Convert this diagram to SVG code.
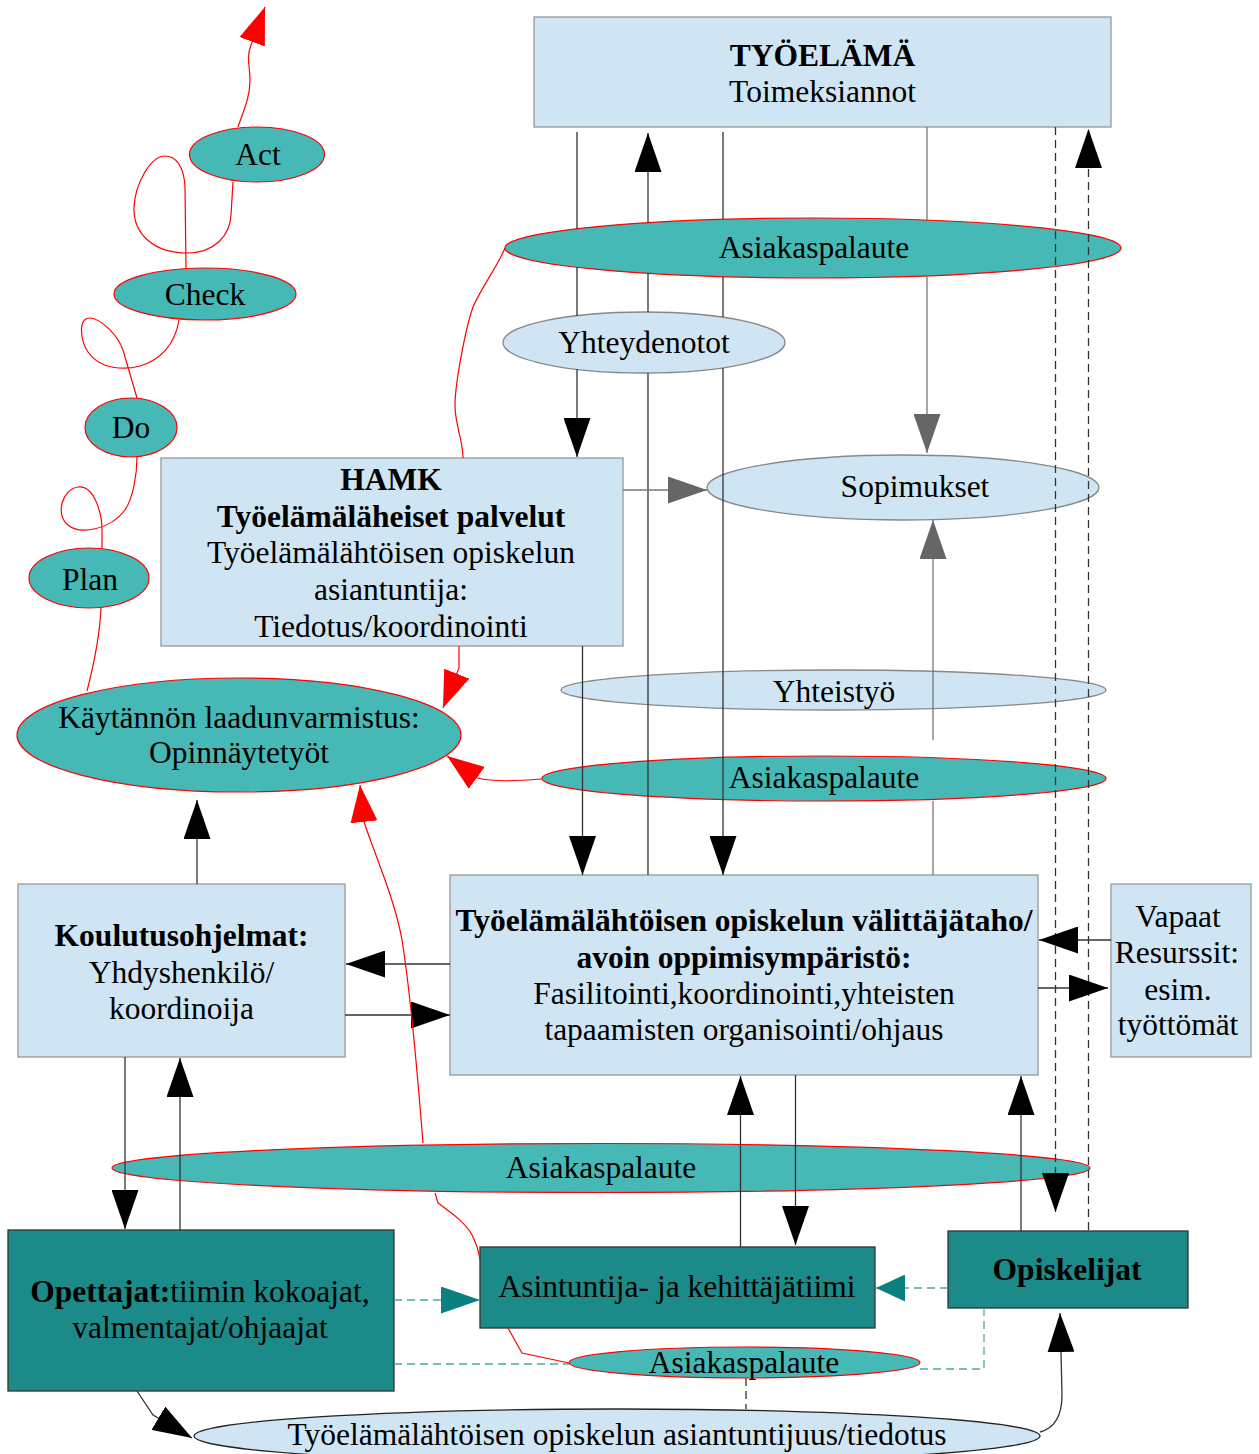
<svg xmlns="http://www.w3.org/2000/svg" width="1259" height="1454" viewBox="0 0 1259 1454">
  <style>
    text { font-family: "Liberation Serif", "Times New Roman", serif; font-size: 31.5px; fill: #000; text-anchor: middle; }
    .b { font-weight: bold; }
    .box { fill: #cfe5f3; stroke: #999; stroke-width: 1.3; }
    .dbox { fill: #1b8a88; stroke: #333; stroke-width: 1.3; }
    .lel { fill: #cfe5f3; stroke: #888; stroke-width: 1.3; }
    .tel { fill: #46b8b6; stroke: #f00; stroke-width: 1.2; }
    .ln { fill: none; stroke: #333; stroke-width: 1.3; }
    .lg { fill: none; stroke: #777; stroke-width: 1.3; }
    .ds { fill: none; stroke: #333; stroke-width: 1.3; stroke-dasharray: 8 5; }
    .dt { fill: none; stroke: #4aa8a6; stroke-width: 1.3; stroke-dasharray: 8 5; }
    .rd { fill: none; stroke: #f00; stroke-width: 1.2; }
  </style>
  <defs>
    <marker id="ab" markerUnits="userSpaceOnUse" markerWidth="40" markerHeight="27" viewBox="0 0 40 27" refX="39" refY="13.5" orient="auto">
      <path d="M0,0 L39,13.5 L0,27 z" fill="#000"/>
    </marker>
    <marker id="ag" markerUnits="userSpaceOnUse" markerWidth="40" markerHeight="27" viewBox="0 0 40 27" refX="39" refY="13.5" orient="auto">
      <path d="M0,0 L39,13.5 L0,27 z" fill="#666"/>
    </marker>
    <marker id="ar" markerUnits="userSpaceOnUse" markerWidth="38" markerHeight="27" viewBox="0 0 38 27" refX="37" refY="13.5" orient="auto">
      <path d="M0,0 L37,13.5 L0,27 z" fill="#f00"/>
    </marker>
    <marker id="at" markerUnits="userSpaceOnUse" markerWidth="40" markerHeight="27" viewBox="0 0 40 27" refX="39" refY="13.5" orient="auto">
      <path d="M0,0 L39,13.5 L0,27 z" fill="#0b807e"/>
    </marker>
    <marker id="at2" markerUnits="userSpaceOnUse" markerWidth="30" markerHeight="27" viewBox="0 0 30 27" refX="29" refY="13.5" orient="auto">
      <path d="M0,0 L29,13.5 L0,27 z" fill="#0b807e"/>
    </marker>
  </defs>

  <rect width="1259" height="1454" fill="#fff"/>

  <!-- nodes -->
  <g id="tyoelama">
    <rect class="box" x="534" y="17" width="577" height="110"/>
    <text class="b" x="822.5" y="66">TYÖELÄMÄ</text>
    <text x="822.5" y="102">Toimeksiannot</text>
  </g>
  <g id="asiakaspalaute-top">
    <ellipse class="tel" cx="813" cy="248" rx="308" ry="30"/>
    <text x="814" y="258">Asiakaspalaute</text>
  </g>
  <g id="yhteydenotot">
    <ellipse class="lel" cx="644" cy="342.5" rx="141" ry="30.5"/>
    <text x="644" y="353">Yhteydenotot</text>
  </g>
  <g id="hamk">
    <rect class="box" x="161" y="458" width="462" height="188"/>
    <text class="b" x="391" y="490">HAMK</text>
    <text class="b" x="391" y="527">Työelämäläheiset palvelut</text>
    <text x="391" y="563">Työelämälähtöisen opiskelun</text>
    <text x="391" y="600">asiantuntija:</text>
    <text x="391" y="637">Tiedotus/koordinointi</text>
  </g>
  <g id="sopimukset">
    <ellipse class="lel" cx="903" cy="487.5" rx="196" ry="32.5"/>
    <text x="915" y="497">Sopimukset</text>
  </g>
  <g id="yhteistyo">
    <ellipse class="lel" cx="833.5" cy="690" rx="272.5" ry="20"/>
    <text x="834" y="702">Yhteistyö</text>
  </g>
  <g id="asiakaspalaute-mid">
    <ellipse class="tel" cx="824" cy="778.5" rx="282" ry="22.5"/>
    <text x="824" y="788">Asiakaspalaute</text>
  </g>
  <g id="laadunvarmistus">
    <ellipse class="tel" cx="239" cy="735" rx="222" ry="57"/>
    <text x="239" y="728">Käytännön laadunvarmistus:</text>
    <text x="239" y="763">Opinnäytetyöt</text>
  </g>
  <g id="act">
    <ellipse class="tel" cx="257" cy="154.5" rx="67.5" ry="27.5"/>
    <text x="258" y="165">Act</text>
  </g>
  <g id="check">
    <ellipse class="tel" cx="205" cy="294" rx="91" ry="26"/>
    <text x="205" y="305">Check</text>
  </g>
  <g id="do">
    <ellipse class="tel" cx="131" cy="427.5" rx="46" ry="29.5"/>
    <text x="131" y="438">Do</text>
  </g>
  <g id="plan">
    <ellipse class="tel" cx="89" cy="578" rx="60" ry="30"/>
    <text x="90" y="590">Plan</text>
  </g>
  <g id="koulutusohjelmat">
    <rect class="box" x="18" y="884" width="327" height="173"/>
    <text class="b" x="181.5" y="946">Koulutusohjelmat:</text>
    <text x="181.5" y="983">Yhdyshenkilö/</text>
    <text x="181.5" y="1019">koordinoija</text>
  </g>
  <g id="valittajataho">
    <rect class="box" x="450" y="875" width="588" height="200"/>
    <text class="b" x="744" y="931">Työelämälähtöisen opiskelun välittäjätaho/</text>
    <text class="b" x="744" y="968">avoin oppimisympäristö:</text>
    <text x="744" y="1004">Fasilitointi,koordinointi,yhteisten</text>
    <text x="744" y="1040">tapaamisten organisointi/ohjaus</text>
  </g>
  <g id="vapaat-resurssit">
    <rect class="box" x="1111" y="884" width="140" height="173"/>
    <text x="1178" y="927">Vapaat</text>
    <text x="1177" y="963">Resurssit:</text>
    <text x="1178" y="1000">esim.</text>
    <text x="1178" y="1035">työttömät</text>
  </g>
  <g id="asiakaspalaute-bottom">
    <ellipse class="tel" cx="601" cy="1168" rx="489" ry="24.5"/>
    <text x="601" y="1178">Asiakaspalaute</text>
  </g>
  <g id="opettajat">
    <rect class="dbox" x="8" y="1230" width="386" height="161"/>
    <text x="200" y="1302"><tspan class="b">Opettajat:</tspan>tiimin kokoajat,</text>
    <text x="200" y="1338">valmentajat/ohjaajat</text>
  </g>
  <g id="asintuntijatiimi">
    <rect class="dbox" x="480" y="1247" width="395" height="81"/>
    <text x="677" y="1297">Asintuntija- ja kehittäjätiimi</text>
  </g>
  <g id="opiskelijat">
    <rect class="dbox" x="948" y="1231" width="240" height="77"/>
    <text class="b" x="1067" y="1280">Opiskelijat</text>
  </g>
  <g id="asiakaspalaute-small">
    <ellipse class="tel" cx="744.5" cy="1362.5" rx="175.5" ry="15.5"/>
    <text x="744" y="1373">Asiakaspalaute</text>
  </g>
  <g id="asiantuntijuus">
    <ellipse fill="#cfe5f3" stroke="#222" stroke-width="1.3" cx="617" cy="1436" rx="423" ry="27"/>
    <text x="617" y="1445">Työelämälähtöisen opiskelun asiantuntijuus/tiedotus</text>
  </g>

  <!-- connectors -->
  <g id="connectors">
    <!-- between TYÖELÄMÄ and HAMK / välittäjätaho -->
    <path class="ln" d="M577,132 L577,229 M577,267 L577,316"/>
    <path class="ln" d="M577,369 L577,457" marker-end="url(#ab)"/>
    <path class="ln" d="M648,875 L648,373 M648,312 L648,273"/>
    <path class="ln" d="M648,223 L648,133" marker-end="url(#ab)"/>
    <path class="ln" d="M723,132 L723,219 M723,277 L723,317"/>
    <path class="ln" d="M723,368 L723,875" marker-end="url(#ab)"/>
    <path class="lg" d="M927,127 L927,220"/>
    <path class="lg" d="M927,276 L927,453" marker-end="url(#ag)"/>
    <path class="ds" d="M1055.5,127 L1055.5,1212" marker-end="url(#ab)"/>
    <path class="ds" d="M1088.5,1230 L1088.5,129" marker-end="url(#ab)"/>

    <!-- HAMK and Sopimukset -->
    <path class="lg" d="M623,490 L707,490" marker-end="url(#ag)"/>
    <path class="lg" d="M933,740 L933,520" marker-end="url(#ag)"/>
    <path class="lg" d="M933,801 L933,875"/>
    <path class="ln" d="M582.5,646 L582.5,875" marker-end="url(#ab)"/>

    <!-- Koulutusohjelmat -->
    <path class="ln" d="M197,884 L197,800" marker-end="url(#ab)"/>
    <path class="ln" d="M450,964 L346,964" marker-end="url(#ab)"/>
    <path class="ln" d="M345,1015 L450,1015" marker-end="url(#ab)"/>
    <path class="ln" d="M125,1057 L125,1229" marker-end="url(#ab)"/>
    <path class="ln" d="M180,1230 L180,1058" marker-end="url(#ab)"/>

    <!-- Vapaat resurssit -->
    <path class="ln" d="M1111,940 L1039,940" marker-end="url(#ab)"/>
    <path class="ln" d="M1038,988 L1108,988" marker-end="url(#ab)"/>

    <!-- välittäjätaho and bottom row -->
    <path class="ln" d="M740.5,1247 L740.5,1076" marker-end="url(#ab)"/>
    <path class="ln" d="M795.5,1075 L795.5,1245" marker-end="url(#ab)"/>
    <path class="ln" d="M1021,1231 L1021,1076" marker-end="url(#ab)"/>

    <!-- dashed teal links -->
    <path class="dt" d="M394,1300 L480,1300" marker-end="url(#at)"/>
    <path class="dt" d="M948,1288 L876,1288" marker-end="url(#at2)"/>
    <path class="dt" d="M394,1364 L569,1364"/>
    <path class="dt" d="M920,1369 L984,1369 L984,1308"/>
    <path class="ds" d="M746,1378 L746,1409"/>

    <!-- asiantuntijuus links -->
    <path class="ln" d="M137,1391 L153,1415 L192,1438" marker-end="url(#ab)"/>
    <path class="ln" d="M1040,1432 C1055,1428 1062,1415 1062,1395 L1061,1352 L1060,1313" marker-end="url(#ab)"/>

    <!-- feedback loops -->
    <path class="rd" d="M505,248 C500,262 480,290 473,307 C465,330 455,385 455,405 C455,425 463,440 463,458"/>
    <path class="rd" d="M459,646 L459,668 L443,708" marker-end="url(#ar)"/>
    <path class="rd" d="M542,779 C515,781 495,782 477,778 L447,756" marker-end="url(#ar)"/>
    <path class="rd" d="M423,1143 C418,1080 410,990 402,940 C395,900 375,855 364,822 L360,785" marker-end="url(#ar)"/>
    <path class="rd" d="M435,1193 L438,1203 C450,1212 465,1222 472,1235 C476,1243 479,1252 480,1260"/>
    <path class="rd" d="M508,1328 L522,1353 L569,1363"/>

    <!-- PDCA cycle -->
    <path class="rd" d="M87,691 C95,660 100,630 101,608"/>
    <path class="rd" d="M102,548 L102,530 C102,515 95,485 78,487 C62,489 55,515 68,525 C80,535 110,530 125,510 C133,498 137,475 137,457"/>
    <path class="rd" d="M137,398 L123,350 C118,335 100,318 90,318 C78,318 80,340 88,352 C100,370 125,370 140,366 C160,360 175,345 179,320"/>
    <path class="rd" d="M186,268 L185,187 C184,165 175,156 165,156 C150,156 135,185 134,207 C133,235 155,253 187,253 C215,253 230,235 231,215 L233,182"/>
    <path class="rd" d="M238,127 C243,112 250,98 250,80 C250,66 246,58 251,45 L265,7" marker-end="url(#ar)"/>
  </g>
</svg>
